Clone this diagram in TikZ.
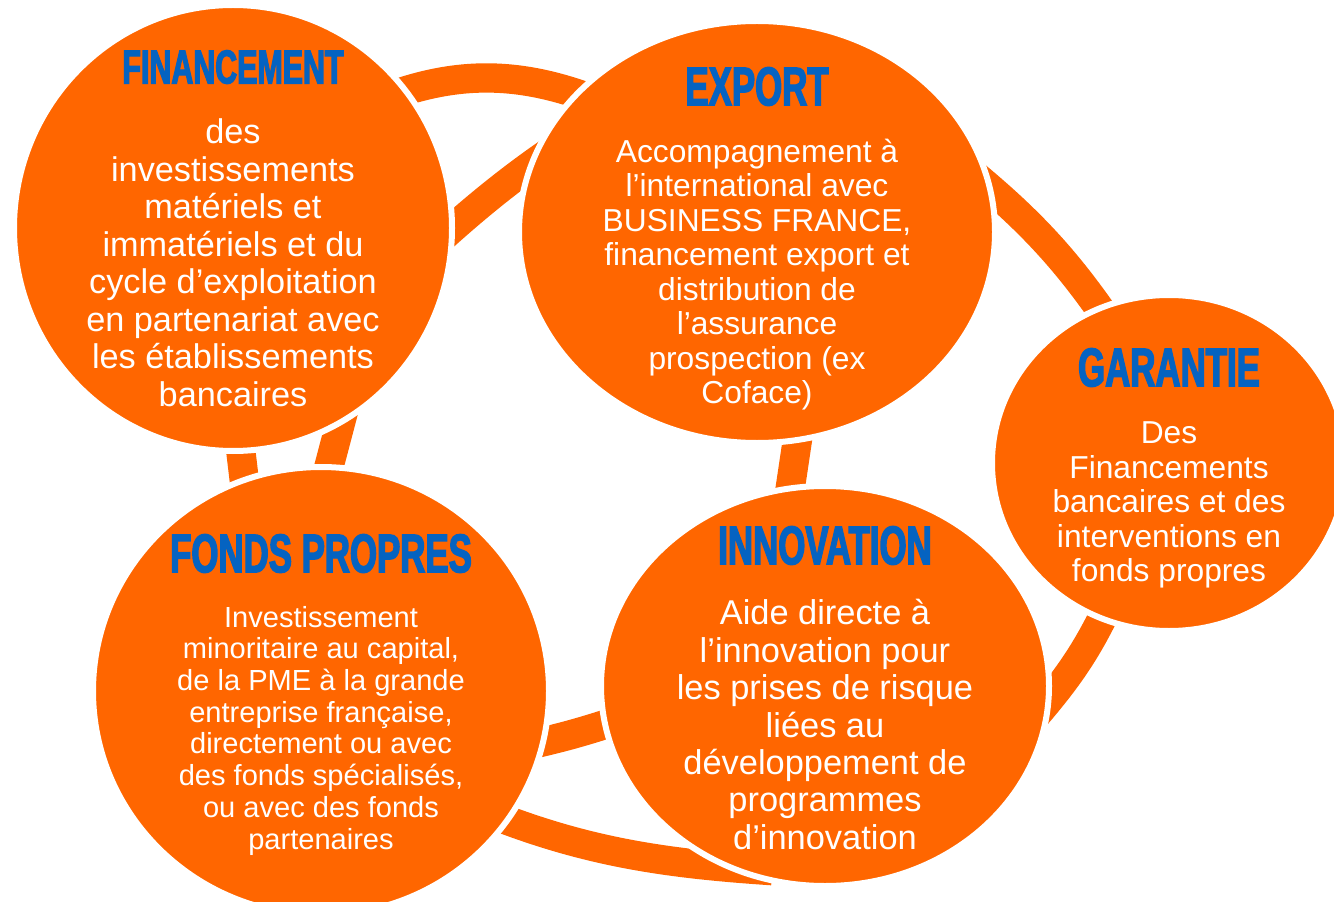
\documentclass[tikz,border=0pt]{standalone}
\usepackage{fontspec}
\setmainfont{Liberation Sans}
\newfontfamily\headfont[FakeStretch=0.64,FakeBold=2.5]{Liberation Sans Bold}
\usetikzlibrary{positioning, shapes.geometric, backgrounds}
\definecolor{bpiorange}{HTML}{FF6600}
\definecolor{bpiblue}{HTML}{0563C1}

\begin{document}
\begin{tikzpicture}[x=0.75pt, y=-0.75pt,
        bubble/.style={ellipse, fill=bpiorange, draw=white, line width=4.5pt, inner sep=0pt, outer sep=0pt},
        headline/.style={text=bpiblue, inner sep=0pt, font=\headfont\fontsize{#1}{#1}\selectfont},
        body/.style 2 args={text=white, inner sep=0pt, align=center, font=\fontsize{#1}{#2}\selectfont},
        band/.style={draw=bpiorange, line width=22pt, shorten <=-30pt, shorten >=-30pt}]
        \useasboundingbox (0,0) rectangle (1334,902);
        \clip (0,0) rectangle (1334,902);
        \node[bubble, minimum width=328.5pt, minimum height=334.5pt] (fin) at (233,228) {};
        \node[bubble, minimum width=357pt, minimum height=316.5pt] (exp) at (757,232) {};
        \node[bubble, minimum width=265.5pt, minimum height=252pt] (gar) at (1169,463) {};
        \node[bubble, minimum width=342pt, minimum height=336pt] (fp) at (321,691) {};
        \node[bubble, minimum width=336pt, minimum height=300pt] (inn) at (825,686) {};
        %---------------------------
        \node[headline=35.6, below=33.75pt of fin.north] (finhead) {FINANCEMENT};
        \node[body={25.7}{28.1}, below=26pt of finhead] (fintext) {des\\ investissements\\ matériels et\\ immatériels et du\\ cycle d’exploitation\\ en partenariat avec\\ les établissements\\ bancaires};
        \node[headline=40.8, below=34.5pt of exp.north] (exphead) {EXPORT};
        \node[body={23.8}{25.9}, below=24.3pt of exphead] (exptext) {Accompagnement à\\ l’international avec\\ BUSINESS FRANCE,\\ financement export et\\ distribution de\\ l’assurance\\ prospection (ex\\ Coface)};
        \node[headline=40.8, below=39.75pt of gar.north] (garhead) {GARANTIE};
        \node[body={23.8}{25.9}, below=25.8pt of garhead] (gartext) {Des\\ Financements\\ bancaires et des\\ interventions en\\ fonds propres};
        \node[headline=40.8, below=50.25pt of fp.north] (fphead) {FONDS PROPRES};
        \node[body={21.8}{23.8}, below=24.5pt of fphead] (fptext) {Investissement\\ minoritaire au capital,\\ de la PME à la grande\\ entreprise française,\\ directement ou avec\\ des fonds spécialisés,\\ ou avec des fonds\\ partenaires};
        \node[headline=40.8, below=30pt of inn.north] (innhead) {INNOVATION};
        \node[body={25.8}{28.1}, below=25.5pt of innhead] (inntext) {Aide directe à\\ l’innovation pour\\ les prises de risque\\ liées au\\ développement de\\ programmes\\ d’innovation};
        %--------------------------
        \begin{pgfonlayer}{background}
        \fill[white] (0,0) rectangle (1334,902);
        \draw[band] (fin.39) .. controls (457,67) and (526,70) .. (exp.142);
        \draw[band] (fin.0) .. controls (468,213) and (514,175) .. (exp.163);
        \draw[band] (exp.11) .. controls (1032,221) and (1071,264) .. (gar.114);
        \draw[band] (gar.-113) .. controls (1090,648) and (1070,677) .. (inn.-4);
        \draw[band] (exp.-79) -- (inn.100);
        \draw[band] (fin.-88) -- (fp.110);
        \draw[band] (fin.-61) -- (fp.88);
        \draw[band] (fp.-13) .. controls (563,738) and (587,731) .. (inn.-170);
        \draw[band] (fp.-35) .. controls (576,850) and (656,863) .. (inn.-117);
        \end{pgfonlayer}
\end{tikzpicture}
\end{document}
